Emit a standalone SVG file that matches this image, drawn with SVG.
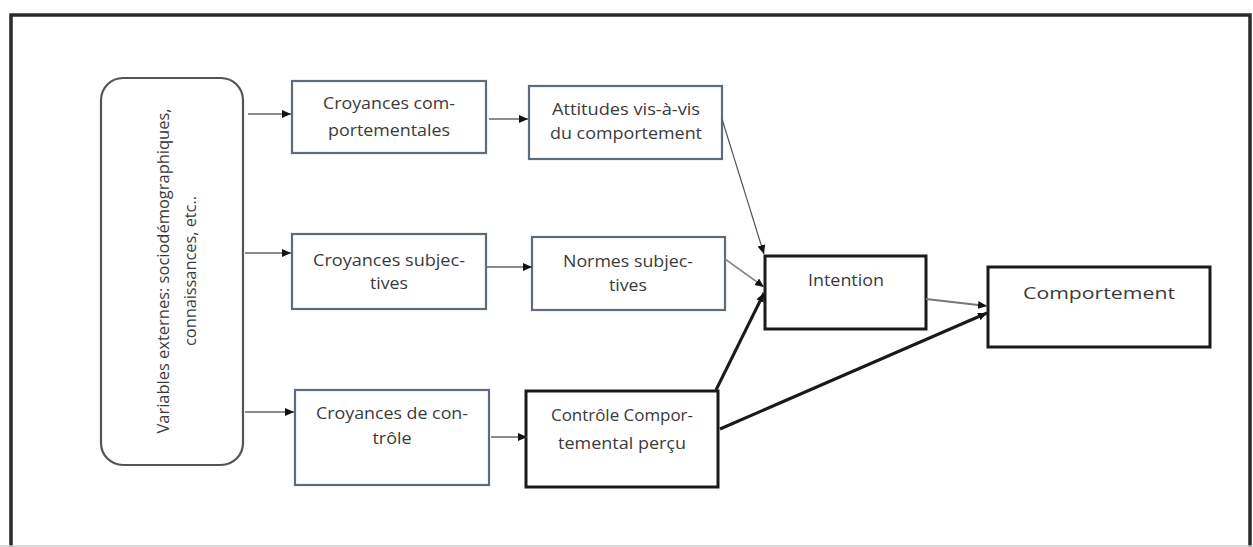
<svg xmlns="http://www.w3.org/2000/svg" width="1253" height="547" viewBox="0 0 1253 547">
<style>
text{font-family:"Open Sans","Liberation Sans",sans-serif;fill:#3a3a3a;text-anchor:middle;dominant-baseline:central;font-size:16px}
.bx{fill:#fff;stroke:#5d6b7c;stroke-width:2.2}
.bk{fill:#fff;stroke:#1a1a1a;stroke-width:3}
.thin{fill:none;stroke:#666;stroke-width:1.6}
.thick{fill:none;stroke:#1a1a1a;stroke-width:3}
</style>
<defs>
<marker id="ah" markerUnits="userSpaceOnUse" markerWidth="10" markerHeight="10" refX="9" refY="5" orient="auto">
<path d="M0,1 L9,5 L0,9 Z" fill="#111"/>
</marker>
</defs>
<rect width="1253" height="547" fill="#fff"/>
<rect x="11" y="15" width="1239" height="545" fill="none" stroke="#2a2a2a" stroke-width="3.5"/>
<line x1="0" y1="546" x2="1253" y2="546" stroke="#d0d0d0" stroke-width="1.5"/>
<g id="ext">
<rect x="101" y="78" width="142" height="387" rx="22" ry="22" fill="#fff" stroke="#555" stroke-width="2.2"/>
<g transform="translate(176,271) rotate(-90)">
<text x="0" y="-13" textLength="325" lengthAdjust="spacingAndGlyphs">Variables externes: sociodémographiques,</text>
<text x="0" y="14" textLength="150" lengthAdjust="spacingAndGlyphs">connaissances, etc..</text>
</g>
</g>
<g id="croy-comp">
<rect class="bx" x="292" y="81" width="194" height="72"/>
<text x="389" y="103" textLength="132" lengthAdjust="spacingAndGlyphs">Croyances com-</text>
<text x="389" y="130" textLength="122" lengthAdjust="spacingAndGlyphs">portementales</text>
</g>
<g id="attitudes">
<rect class="bx" x="529" y="86" width="193" height="73"/>
<text x="626" y="109" textLength="148" lengthAdjust="spacingAndGlyphs">Attitudes vis-à-vis</text>
<text x="626" y="133" textLength="152" lengthAdjust="spacingAndGlyphs">du comportement</text>
</g>
<g id="croy-subj">
<rect class="bx" x="292" y="234" width="194" height="75"/>
<text x="389" y="260" textLength="152" lengthAdjust="spacingAndGlyphs">Croyances subjec-</text>
<text x="389" y="283" textLength="38" lengthAdjust="spacingAndGlyphs">tives</text>
</g>
<g id="normes">
<rect class="bx" x="532" y="237" width="193" height="73"/>
<text x="628" y="261" textLength="130" lengthAdjust="spacingAndGlyphs">Normes subjec-</text>
<text x="628" y="285" textLength="38" lengthAdjust="spacingAndGlyphs">tives</text>
</g>
<g id="croy-ctrl">
<rect class="bx" x="295" y="390" width="194" height="95"/>
<text x="392" y="413" textLength="152" lengthAdjust="spacingAndGlyphs">Croyances de con-</text>
<text x="392" y="438" textLength="39" lengthAdjust="spacingAndGlyphs">trôle</text>
</g>
<g id="controle">
<rect class="bk" x="526" y="391" width="192" height="96"/>
<text x="622" y="415" textLength="142" lengthAdjust="spacingAndGlyphs">Contrôle Compor-</text>
<text x="622" y="443" textLength="128" lengthAdjust="spacingAndGlyphs">temental perçu</text>
</g>
<g id="intention">
<rect class="bk" x="765" y="256" width="161" height="73"/>
<text x="846" y="280" textLength="76" lengthAdjust="spacingAndGlyphs">Intention</text>
</g>
<g id="comportement">
<rect class="bk" x="988" y="267" width="222" height="80"/>
<text x="1099" y="293" font-size="19" textLength="152" lengthAdjust="spacingAndGlyphs">Comportement</text>
</g>
<g id="connectors">
<line class="thin" x1="248" y1="114" x2="291" y2="114" marker-end="url(#ah)"/>
<line class="thin" x1="245" y1="253" x2="291" y2="253" marker-end="url(#ah)"/>
<line class="thin" x1="245" y1="412" x2="294" y2="412" marker-end="url(#ah)"/>
<line class="thin" x1="489" y1="119" x2="528" y2="119" marker-end="url(#ah)"/>
<line class="thin" x1="487" y1="267" x2="532" y2="267" marker-end="url(#ah)"/>
<line class="thin" x1="491" y1="437" x2="527" y2="437" marker-end="url(#ah)"/>
<line x1="722" y1="119" x2="764" y2="254" stroke="#555" stroke-width="1.2" marker-end="url(#ah)"/>
<line x1="725" y1="259" x2="764" y2="287" stroke="#888" stroke-width="1.6" marker-end="url(#ah)"/>
<line class="thick" x1="716" y1="390" x2="764" y2="293" marker-end="url(#ah)"/>
<line x1="926" y1="299" x2="987" y2="306" stroke="#777" stroke-width="2" marker-end="url(#ah)"/>
<line class="thick" x1="720" y1="429" x2="987" y2="313" marker-end="url(#ah)"/>
</g>
</svg>
